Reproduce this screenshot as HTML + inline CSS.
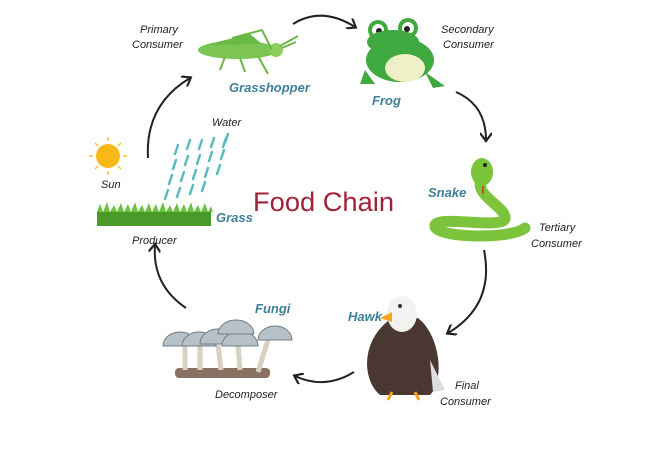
<!DOCTYPE html>
<html><head><meta charset="utf-8"><style>
html,body{margin:0;padding:0;background:#fff;}
svg{display:block}
.t{font-family:"Liberation Sans",sans-serif;font-style:italic;font-size:11px;fill:#222}
.b{font-family:"Liberation Sans",sans-serif;font-style:italic;font-weight:bold;font-size:13px;fill:#3f7f99}
</style></head><body>
<svg width="646" height="454" viewBox="0 0 646 454" xmlns="http://www.w3.org/2000/svg">
<defs>
<marker id="ah" markerWidth="12" markerHeight="12" refX="8" refY="6" orient="auto" markerUnits="userSpaceOnUse">
<path d="M1,0 L9,6 L1,12" fill="none" stroke="#222" stroke-width="2.2"/>
</marker>
</defs>
<g fill="none" stroke="#222" stroke-width="2">
<path d="M293,24 Q322,6 355,27" marker-end="url(#ah)"/>
<path d="M456,92 Q486,105 486,140" marker-end="url(#ah)"/>
<path d="M484,250 Q495,305 448,333" marker-end="url(#ah)"/>
<path d="M354,372 Q325,390 295,376" marker-end="url(#ah)"/>
<path d="M186,308 Q152,285 155,245" marker-end="url(#ah)"/>
<path d="M148,158 Q145,105 190,78" marker-end="url(#ah)"/>
</g>
<text class="t" x="140" y="33">Primary</text>
<text class="t" x="132" y="48">Consumer</text>
<text class="b" x="229" y="92">Grasshopper</text>
<text class="t" x="441" y="33">Secondary</text>
<text class="t" x="443" y="48">Consumer</text>
<text class="b" x="372" y="105">Frog</text>
<text class="b" x="428" y="197">Snake</text>
<text class="t" x="539" y="231">Tertiary</text>
<text class="t" x="531" y="247">Consumer</text>
<text class="b" x="348" y="321">Hawk</text>
<text class="t" x="455" y="389">Final</text>
<text class="t" x="440" y="405">Consumer</text>
<text class="b" x="255" y="313">Fungi</text>
<text class="t" x="215" y="398">Decomposer</text>
<text class="t" x="212" y="126">Water</text>
<text class="t" x="101" y="188">Sun</text>
<text class="b" x="216" y="222">Grass</text>
<text class="t" x="132" y="244">Producer</text>
<text x="253" y="211" font-family="Liberation Sans,sans-serif" font-size="27" fill="#a3223a" textLength="141" lengthAdjust="spacingAndGlyphs">Food Chain</text>
<g stroke="#f5c030" stroke-width="1.5">
<line x1="108" y1="137" x2="108" y2="141"/><line x1="108" y1="171" x2="108" y2="175"/>
<line x1="89" y1="156" x2="93" y2="156"/><line x1="123" y1="156" x2="127" y2="156"/>
<line x1="95" y1="143" x2="98" y2="146"/><line x1="118" y1="166" x2="121" y2="169"/>
<line x1="121" y1="143" x2="118" y2="146"/><line x1="98" y1="166" x2="95" y2="169"/>
</g>
<circle cx="108" cy="156" r="12" fill="#f7b818"/>
<g stroke="#5bbcc0" stroke-width="2.5" stroke-linecap="round">
<path d="M178,145 l-3,9 M190,140 l-3,9 M202,140 l-3,9 M214,138 l-3,9 M226,138 l-3,9 M228,134 l-3,9
M176,160 l-3,9 M188,156 l-3,9 M200,155 l-3,9 M212,152 l-3,9 M224,150 l-3,9
M172,175 l-3,9 M184,172 l-3,9 M196,170 l-3,9 M208,168 l-3,9 M220,165 l-3,9
M168,190 l-3,9 M180,188 l-3,9 M193,185 l-3,9 M205,182 l-3,9"/>
</g>
<rect x="97" y="212" width="114" height="14" fill="#4a9a2a"/>
<path d="M97,212 l3,-8 l3,8 l4,-10 l3,10 l4,-7 l3,7 l4,-9 l3,9 l4,-8 l3,8 l4,-10 l3,10 l4,-7 l3,7 l4,-9 l3,9 l4,-8 l3,8 l4,-10 l3,10 l4,-7 l3,7 l4,-9 l3,9 l4,-8 l3,8 l4,-10 l3,10 l4,-7 l3,7 l4,-9 l3,9 l3,-6 l2,6z" fill="#6cc040"/>
<ellipse cx="238" cy="50" rx="40" ry="9" fill="#7cc454"/>
<path d="M205,45 L250,34 L262,44 Z" fill="#6ab846"/>
<circle cx="276" cy="50" r="7" fill="#8ccf5e"/>
<g stroke="#6ab846" stroke-width="2" fill="none">
<path d="M280,46 L298,36 M282,48 L296,42 M225,57 L220,70 M240,58 L245,72 M258,56 L268,74 M232,38 L262,30 L272,50"/></g>
<ellipse cx="400" cy="60" rx="34" ry="22" fill="#3fa83e"/>
<ellipse cx="405" cy="68" rx="20" ry="14" fill="#eef0c8"/>
<circle cx="378" cy="30" r="10" fill="#3fa83e"/><circle cx="408" cy="28" r="10" fill="#3fa83e"/>
<circle cx="378" cy="30" r="6" fill="#fff"/><circle cx="408" cy="28" r="6" fill="#fff"/>
<circle cx="379" cy="31" r="3" fill="#222"/><circle cx="407" cy="29" r="3" fill="#222"/>
<ellipse cx="393" cy="42" rx="26" ry="12" fill="#3fa83e"/>
<path d="M365,70 l-5,14 l15,0z M425,72 l20,14 l-12,2z" fill="#3fa83e"/>
<g fill="none" stroke="#7cc43c" stroke-width="11" stroke-linecap="round">
<path d="M483,175 C470,195 505,205 505,218 C505,230 440,215 435,225 C432,238 510,240 525,228"/>
</g>
<ellipse cx="482" cy="172" rx="11" ry="14" fill="#7cc43c"/>
<circle cx="485" cy="165" r="2" fill="#222"/>
<line x1="483" y1="186" x2="483" y2="194" stroke="#c33" stroke-width="1.5"/>
<path d="M392,318 C360,340 362,380 380,395 L430,395 C445,380 440,335 418,318 Z" fill="#4b3732"/>
<path d="M430,360 l15,30 l-12,2z" fill="#ddd"/>
<ellipse cx="402" cy="314" rx="15" ry="18" fill="#f2f2f0"/>
<path d="M392,312 l-12,6 l12,4z" fill="#f6a21c"/>
<circle cx="400" cy="306" r="2" fill="#333"/>
<g stroke="#f6a21c" stroke-width="3"><path d="M392,392 l-4,8 M415,392 l4,8"/></g>
<rect x="175" y="368" width="95" height="10" rx="4" fill="#8a7060"/>
<g stroke="#d8d0c0" stroke-width="5">
<path d="M185,345 l0,25 M200,345 l0,25 M218,345 l3,25 M238,345 l2,25 M268,340 l-10,32"/></g>
<g fill="#b7c1c8" stroke="#6e7d88" stroke-width="1">
<path d="M163,346 a17,14 0 0 1 34,0z"/><path d="M182,346 a17,14 0 0 1 34,0z"/><path d="M200,344 a18,15 0 0 1 36,0z"/>
<path d="M222,346 a18,15 0 0 1 36,0z"/><path d="M218,334 a18,14 0 0 1 36,0z"/><path d="M258,340 a17,14 0 0 1 34,0z"/></g>
</svg>
</body></html>
